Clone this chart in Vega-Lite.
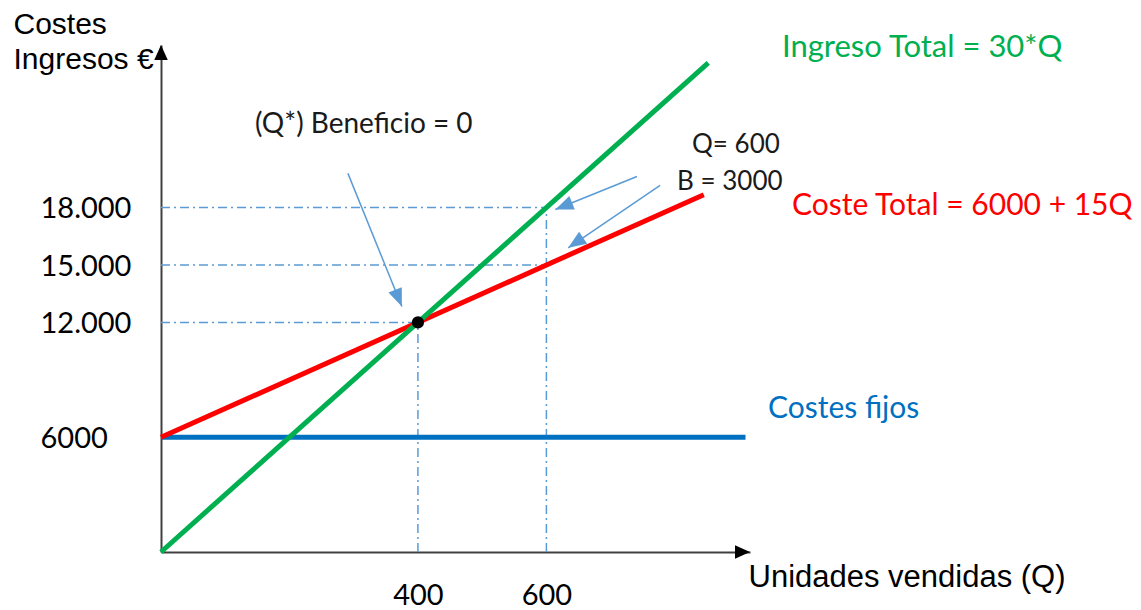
{
  "$schema": "https://vega.github.io/schema/vega-lite/v6.json",
  "width": 589,
  "height": 507,
  "autosize": {"type": "none"},
  "padding": {"left": 161, "top": 45, "right": 391, "bottom": 58},
  "background": "white",
  "config": {"view": {"stroke": null}},
  "datasets": {
    "guides": [
      {"Q": 0, "Q2": 600, "v": 18000, "v2": 18000},
      {"Q": 0, "Q2": 600, "v": 15000, "v2": 15000},
      {"Q": 0, "Q2": 400, "v": 12000, "v2": 12000},
      {"Q": 400, "Q2": 400, "v": 0, "v2": 12000},
      {"Q": 600, "Q2": 600, "v": 0, "v2": 18000}
    ],
    "lines": [
      {"serie": "Fijos", "Q": 0, "v": 6000},
      {"serie": "Fijos", "Q": 910, "v": 6000},
      {"serie": "Coste", "Q": 0, "v": 6000},
      {"serie": "Coste", "Q": 845, "v": 18675},
      {"serie": "Ingreso", "Q": 0, "v": 0},
      {"serie": "Ingreso", "Q": 852, "v": 25560}
    ],
    "arrows": [
      {"Q": 291, "v": 19790, "Q2": 375, "v2": 12830},
      {"Q": 741, "v": 19630, "Q2": 614, "v2": 17900},
      {"Q": 777, "v": 19160, "Q2": 634, "v2": 15900}
    ]
  },
  "layer": [
    {
      "data": {"name": "guides"},
      "mark": {"type": "rule", "color": "#5b9bd5", "strokeWidth": 1.5, "strokeDash": [9, 4, 2, 4]},
      "encoding": {
        "x": {
          "field": "Q", "type": "quantitative",
          "scale": {"domain": [0, 917], "nice": false, "zero": false},
          "axis": {
            "values": [400, 600], "ticks": false, "grid": false,
            "domainColor": "#404040", "domainWidth": 2,
            "labelFont": "Lato", "labelFontSize": 29, "labelColor": "#000000",
            "labelBaseline": "alphabetic", "labelPadding": 52, "labelFlush": false,
            "title": "Unidades vendidas (Q)", "titleFont": "Liberation Sans", "titleFontSize": 31,
            "titleFontWeight": "normal", "titleColor": "#000000", "titleAngle": 0,
            "titleAlign": "left", "titleBaseline": "alphabetic", "titleX": 587, "titleY": 34
          }
        },
        "x2": {"field": "Q2"},
        "y": {
          "field": "v", "type": "quantitative",
          "scale": {"domain": [0, 26500], "nice": false, "zero": false},
          "axis": {
            "values": [6000, 12000, 15000, 18000], "ticks": false, "tickSize": 0, "grid": false,
            "domainColor": "#404040", "domainWidth": 2,
            "labelFont": "Lato", "labelFontSize": 29, "labelColor": "#000000",
            "labelAlign": "left", "labelBaseline": "alphabetic", "labelOffset": 10, "labelPadding": 121,
            "labelFlush": false,
            "labelExpr": "datum.value == 6000 ? '6000' : format(datum.value / 1000, '.0f') + '.000'",
            "title": ["Costes", "Ingresos €"], "titleFont": "Liberation Sans", "titleFontSize": 30,
            "titleFontWeight": "normal", "titleColor": "#000000", "titleAngle": 0,
            "titleAlign": "left", "titleBaseline": "alphabetic", "titleX": -148, "titleY": -12,
            "titleLineHeight": 35
          }
        },
        "y2": {"field": "v2"}
      }
    },
    {
      "data": {"name": "lines"},
      "mark": {"type": "line", "strokeWidth": 5},
      "encoding": {
        "x": {"field": "Q", "type": "quantitative"},
        "y": {"field": "v", "type": "quantitative"},
        "color": {
          "field": "serie", "type": "nominal",
          "scale": {"domain": ["Ingreso", "Coste", "Fijos"], "range": ["#00b050", "#ff0000", "#0070c0"]},
          "legend": null
        },
        "order": {"field": "Q"}
      }
    },
    {
      "data": {"values": [{"Q": 400, "v": 12000}]},
      "mark": {"type": "point", "filled": true, "color": "#000000", "size": 150, "opacity": 1},
      "encoding": {
        "x": {"field": "Q", "type": "quantitative"},
        "y": {"field": "v", "type": "quantitative"}
      }
    },
    {
      "data": {"name": "arrows"},
      "mark": {"type": "rule", "color": "#5b9bd5", "strokeWidth": 1.5},
      "encoding": {
        "x": {"field": "Q", "type": "quantitative"},
        "y": {"field": "v", "type": "quantitative"},
        "x2": {"field": "Q2"},
        "y2": {"field": "v2"}
      }
    },
    {
      "data": {"values": [{"Q": 375, "v": 12830}]},
      "mark": {"type": "point", "filled": true, "color": "#5b9bd5", "opacity": 1, "size": 1296, "angle": 157.9, "shape": "M0,0L-0.4,1L0.4,1Z"},
      "encoding": {"x": {"field": "Q", "type": "quantitative"}, "y": {"field": "v", "type": "quantitative"}}
    },
    {
      "data": {"values": [{"Q": 614, "v": 17900}]},
      "mark": {"type": "point", "filled": true, "color": "#5b9bd5", "opacity": 1, "size": 1296, "angle": 247.9, "shape": "M0,0L-0.4,1L0.4,1Z"},
      "encoding": {"x": {"field": "Q", "type": "quantitative"}, "y": {"field": "v", "type": "quantitative"}}
    },
    {
      "data": {"values": [{"Q": 634, "v": 15900}]},
      "mark": {"type": "point", "filled": true, "color": "#5b9bd5", "opacity": 1, "size": 1296, "angle": 235.8, "shape": "M0,0L-0.4,1L0.4,1Z"},
      "encoding": {"x": {"field": "Q", "type": "quantitative"}, "y": {"field": "v", "type": "quantitative"}}
    },
    {
      "data": {"values": [{"Q": 0, "v": 26500}]},
      "mark": {"type": "point", "filled": true, "color": "#000000", "opacity": 1, "size": 900, "angle": 0, "shape": "M0,0L-0.45,1L0.45,1Z"},
      "encoding": {"x": {"field": "Q", "type": "quantitative"}, "y": {"field": "v", "type": "quantitative"}}
    },
    {
      "data": {"values": [{"Q": 917, "v": 0}]},
      "mark": {"type": "point", "filled": true, "color": "#000000", "opacity": 1, "size": 900, "angle": 90, "shape": "M0,0L-0.45,1L0.45,1Z"},
      "encoding": {"x": {"field": "Q", "type": "quantitative"}, "y": {"field": "v", "type": "quantitative"}}
    },
    {
      "data": {"values": [{"Q": 146.3, "v": 21900, "label": "(Q*) Beneficio = 0"}]},
      "mark": {"type": "text", "font": "Lato", "fontSize": 28, "color": "#1a1a1a", "align": "left", "baseline": "alphabetic"},
      "encoding": {"x": {"field": "Q", "type": "quantitative"}, "y": {"field": "v", "type": "quantitative"}, "text": {"field": "label"}}
    },
    {
      "data": {"values": [
        {"Q": 826.7, "v": 20855, "label": "Q= 600"},
        {"Q": 803.4, "v": 18921, "label": "B = 3000"}
      ]},
      "mark": {"type": "text", "font": "Lato", "fontSize": 26, "color": "#1a1a1a", "align": "left", "baseline": "alphabetic"},
      "encoding": {"x": {"field": "Q", "type": "quantitative"}, "y": {"field": "v", "type": "quantitative"}, "text": {"field": "label"}}
    },
    {
      "data": {"values": [{"Q": 966.8, "v": 25873, "label": "Ingreso Total = 30*Q"}]},
      "mark": {"type": "text", "font": "Lato", "fontSize": 31, "color": "#00b050", "align": "left", "baseline": "alphabetic"},
      "encoding": {"x": {"field": "Q", "type": "quantitative"}, "y": {"field": "v", "type": "quantitative"}, "text": {"field": "label"}}
    },
    {
      "data": {"values": [{"Q": 982.4, "v": 17614, "label": "Coste Total = 6000 + 15Q"}]},
      "mark": {"type": "text", "font": "Lato", "fontSize": 30, "color": "#ff0000", "align": "left", "baseline": "alphabetic"},
      "encoding": {"x": {"field": "Q", "type": "quantitative"}, "y": {"field": "v", "type": "quantitative"}, "text": {"field": "label"}}
    },
    {
      "data": {"values": [{"Q": 945, "v": 7004, "label": "Costes fijos"}]},
      "mark": {"type": "text", "font": "Lato", "fontSize": 30, "color": "#0070c0", "align": "left", "baseline": "alphabetic"},
      "encoding": {"x": {"field": "Q", "type": "quantitative"}, "y": {"field": "v", "type": "quantitative"}, "text": {"field": "label"}}
    }
  ]
}
